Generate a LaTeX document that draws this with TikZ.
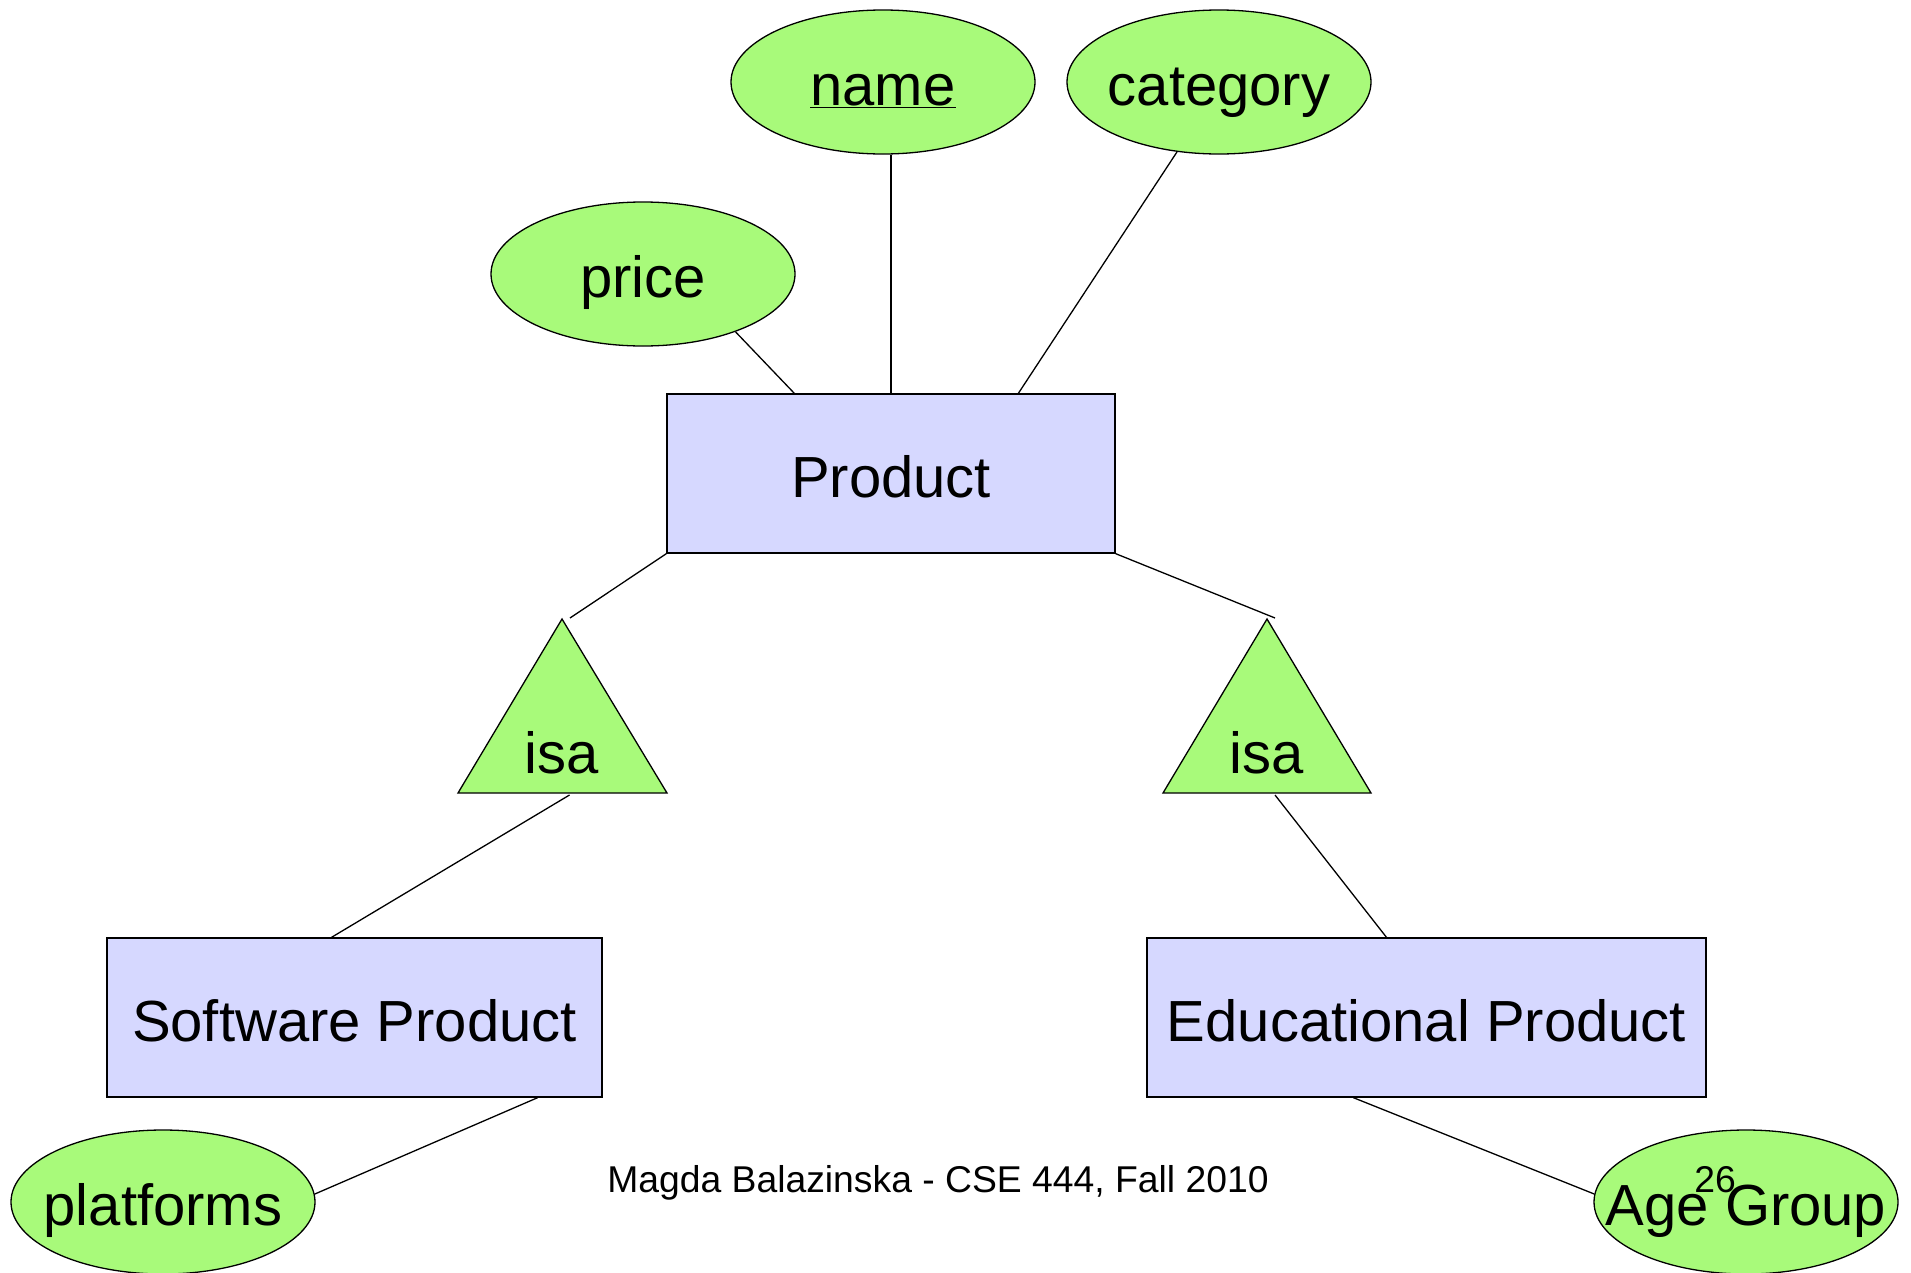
\documentclass[tikz,border=0pt]{standalone}
\usepackage{fontspec}
\setmainfont{Liberation Sans}
\usetikzlibrary{shapes.geometric,calc}
\definecolor{attrgreen}{RGB}{168,250,122}
\definecolor{entblue}{RGB}{214,216,255}
\newcommand\erfont{\fontsize{58}{64}\selectfont}
\newcommand\footfont{\fontsize{37.3}{42}\selectfont}
\begin{document}
\begin{tikzpicture}[x=1pt,y=-1pt,
  attr/.style={ellipse,draw,fill=attrgreen,line width=1.3pt,minimum width=304pt,minimum height=144pt,inner sep=0pt,font=\erfont,text height=52pt,text depth=5pt},
  ent/.style={rectangle,draw,fill=entblue,line width=1.3pt,inner sep=0pt,minimum height=159pt,font=\erfont,text height=52pt,text depth=5pt},
  link/.style={line width=1.3pt},
  isatri/.style={draw,fill=attrgreen,line width=1.3pt,line join=miter},
  isatext/.style={font=\erfont,anchor=base,inner sep=0pt},
  foot/.style={font=\footfont,anchor=base,inner sep=0pt}]
\useasboundingbox (0,0) rectangle (1911,1272);

% attributes
\node[attr] (name) at (883,82) {\underline{name}};
\node[attr] (cat) at (1219,82) {\makebox[0pt]{category}};
\node[attr] (price) at (643,274) {price};
\node[attr] (plat) at (163,1202) {\makebox[0pt]{platforms}};
\node[attr] (age) at (1746,1202) {\makebox[0pt]{Age Group}};

% entities
\node[ent,minimum width=448pt] (prod) at (891,473.5) {Product};
\node[ent,minimum width=495pt] (soft) at (354.5,1017.5) {Software Product};
\node[ent,minimum width=559pt] (edu) at (1426.5,1017.5) {Educational Product};

% isa triangles
\coordinate (lapex) at (562,619);
\coordinate (lbl) at (458,793);
\coordinate (lbr) at (667,793);
\coordinate (rapex) at (1267,619);
\coordinate (rbl) at (1163,793);
\coordinate (rbr) at (1371,793);
\draw[isatri] (lapex) -- (lbl) -- (lbr) -- cycle;
\draw[isatri] (rapex) -- (rbl) -- (rbr) -- cycle;
\node[isatext] (isaL) at (562,773) {isa};
\node[isatext] (isaR) at (1267,773) {isa};

% connectors
\draw[link] (price.-32.5) -- ($(prod.north west)+(128,0)$);
\draw[link] (prod.north) -- (prod.north |- name.south);
\draw[link] (cat.-121) -- ($(prod.north west)+(352,0)$);
\draw[link] (prod.south west) -- ($(lapex)+(8,-1)$);
\draw[link] (prod.south east) -- ($(rapex)+(8,-1)$);
\draw[link] ($(lbl)!0.5!(lbr)+(7,2)$) -- ($(soft.north)+(-23,0)$);
\draw[link] ($(rbl)!0.5!(rbr)+(8,2)$) -- ($(edu.north)+(-40,0)$);
\draw[link] ($(soft.south east)+(-65,0)$) -- (plat.3);
\draw[link] ($(edu.south west)+(207,0)$) -- (age.177);

% footer
\node[foot] (footer) at (938,1192) {Magda Balazinska - CSE 444, Fall 2010};
\node[foot] (pagenum) at (1715,1192) {26};
\end{tikzpicture}
\end{document}
